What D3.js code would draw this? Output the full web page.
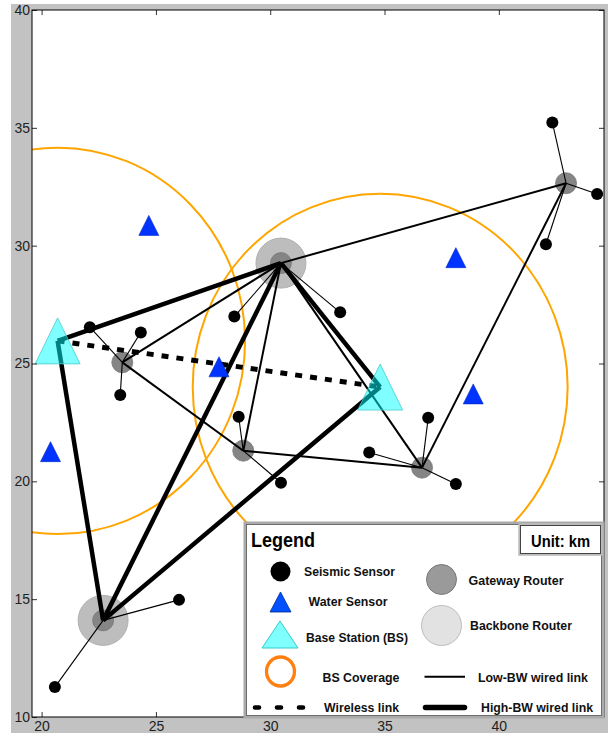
<!DOCTYPE html>
<html>
<head>
<meta charset="utf-8">
<script src="https://cdn.jsdelivr.net/npm/d3@7"></script>
<style>
  html, body { margin: 0; padding: 0; background: #fff; }
  svg { display: block; font-family: "Liberation Sans", Arial, Helvetica, sans-serif; }
</style>
</head>
<body>
<svg id="chart" width="608" height="733"></svg>
<script>
// ---- Data (km) ----
const xTicks = [20, 25, 30, 35, 40];
const yTicks = [10, 15, 20, 25, 30, 35, 40];

const coverageRadius = 8.2;

// base stations
const baseStations = [
  { id: "BS1", x: 20.70, y: 25.96 },
  { id: "BS2", x: 34.81, y: 24.00 }
];

// backbone routers
const backboneRouters = [
  { id: "BB1", x: 30.47, y: 29.26 },
  { id: "BB2", x: 22.69, y: 14.10 }
];

// gateway routers
const gatewayRouters = [
  { id: "G1", x: 23.53, y: 25.05 },
  { id: "G2", x: 28.82, y: 21.30 },
  { id: "G3", x: 36.64, y: 20.58 },
  { id: "G4", x: 42.94, y: 32.65 }
];

// water sensors
const waterSensors = [
  { x: 24.69, y: 30.86 },
  { x: 27.76, y: 24.86 },
  { x: 20.39, y: 21.26 },
  { x: 38.12, y: 29.49 },
  { x: 38.88, y: 23.71 }
];

// seismic sensors with the router each one reports to
const seismicSensors = [
  { x: 42.34, y: 35.23, parent: "G4" },
  { x: 44.30, y: 32.19, parent: "G4" },
  { x: 42.06, y: 30.06, parent: "G4" },
  { x: 33.06, y: 27.17, parent: "BB1" },
  { x: 28.43, y: 26.99, parent: "BB1" },
  { x: 22.11, y: 26.54, parent: "G1" },
  { x: 24.34, y: 26.32, parent: "G1" },
  { x: 23.44, y: 23.66, parent: "G1" },
  { x: 28.62, y: 22.74, parent: "G2" },
  { x: 30.47, y: 19.94, parent: "G2" },
  { x: 36.91, y: 22.70, parent: "G3" },
  { x: 34.33, y: 21.22, parent: "G3" },
  { x: 38.12, y: 19.89, parent: "G3" },
  { x: 26.01, y: 14.97, parent: "BB2" },
  { x: 20.58, y: 11.27, parent: "BB2" }
];

// links between infrastructure nodes
const highBwLinks = [["BS1", "BB1"], ["BS1", "BB2"], ["BB2", "BB1"], ["BB2", "BS2"], ["BB1", "BS2"]];
const lowBwLinks = [["BB1", "G4"], ["BB1", "G1"], ["BB1", "G2"], ["BB1", "G3"], ["G1", "G2"], ["G2", "G3"], ["G3", "G4"]];
const wirelessLinks = [["BS1", "BS2"]];

// ---- Layout ----
const svg = d3.select("#chart");
const W = 608, H = 733;
const plot = { left: 32, right: 604, top: 10, bottom: 717 };

const x = d3.scaleLinear().domain([19.58, 44.6]).range([plot.left, plot.right]);
const y = d3.scaleLinear().domain([10, 40]).range([plot.bottom, plot.top]);

const nodeById = new Map();
[...baseStations, ...backboneRouters, ...gatewayRouters].forEach(n => nodeById.set(n.id, n));

// figure background
svg.append("rect").attr("x", 11).attr("y", 4).attr("width", W - 11).attr("height", H - 4).attr("fill", "#c2c2c2");
svg.append("rect").attr("x", plot.left).attr("y", plot.top)
  .attr("width", plot.right - plot.left).attr("height", plot.bottom - plot.top).attr("fill", "#fff");

svg.append("defs").append("clipPath").attr("id", "plotClip")
  .append("rect").attr("x", plot.left).attr("y", plot.top)
  .attr("width", plot.right - plot.left).attr("height", plot.bottom - plot.top);

const g = svg.append("g").attr("clip-path", "url(#plotClip)");

// coverage circles (radius in km on both axes)
g.selectAll("ellipse.cov").data(baseStations).join("ellipse")
  .attr("class", "cov")
  .attr("cx", d => x(d.x)).attr("cy", d => y(d.y))
  .attr("rx", d => x(d.x + coverageRadius) - x(d.x))
  .attr("ry", d => y(d.y) - y(d.y + coverageRadius))
  .attr("fill", "none").attr("stroke", "#ffa500").attr("stroke-width", 2);

// backbone routers: outer light disc plus inner router disc
g.selectAll("circle.bbo").data(backboneRouters).join("circle")
  .attr("class", "bbo")
  .attr("cx", d => x(d.x)).attr("cy", d => y(d.y)).attr("r", 25)
  .attr("fill", "#bdbdbd").attr("stroke", "#b0b0b0").attr("stroke-width", 1);
g.selectAll("circle.gw").data([...backboneRouters, ...gatewayRouters]).join("circle")
  .attr("class", "gw")
  .attr("cx", d => x(d.x)).attr("cy", d => y(d.y)).attr("r", 10.5)
  .attr("fill", "#858585").attr("stroke", "#777").attr("stroke-width", 0.8);

// sensor links
g.selectAll("line.sl").data(seismicSensors).join("line")
  .attr("class", "sl")
  .attr("x1", d => x(d.x)).attr("y1", d => y(d.y))
  .attr("x2", d => x(nodeById.get(d.parent).x)).attr("y2", d => y(nodeById.get(d.parent).y))
  .attr("stroke", "#000").attr("stroke-width", 1.1);

function drawLinks(cls, links, width, dash) {
  g.selectAll("line." + cls).data(links).join("line")
    .attr("class", cls)
    .attr("x1", d => x(nodeById.get(d[0]).x)).attr("y1", d => y(nodeById.get(d[0]).y))
    .attr("x2", d => x(nodeById.get(d[1]).x)).attr("y2", d => y(nodeById.get(d[1]).y))
    .attr("stroke", "#000").attr("stroke-width", width)
    .attr("stroke-dasharray", dash || null);
}
drawLinks("low", lowBwLinks, 2);
drawLinks("high", highBwLinks, 4.5);
drawLinks("wl", wirelessLinks, 5, "7,8");

// seismic sensors
g.selectAll("circle.seis").data(seismicSensors).join("circle")
  .attr("class", "seis")
  .attr("cx", d => x(d.x)).attr("cy", d => y(d.y)).attr("r", 6)
  .attr("fill", "#000");

// triangle marker centred on its bounding box
function tri(w, h) {
  return `M0,${-h / 2}L${w / 2},${h / 2}L${-w / 2},${h / 2}Z`;
}

g.selectAll("path.water").data(waterSensors).join("path")
  .attr("class", "water")
  .attr("transform", d => `translate(${x(d.x)},${y(d.y)})`)
  .attr("d", tri(20, 20))
  .attr("fill", "#0033ff").attr("stroke", "#0026c0").attr("stroke-width", 0.6);

g.selectAll("path.bs").data(baseStations).join("path")
  .attr("class", "bs")
  .attr("transform", d => `translate(${x(d.x)},${y(d.y)})`)
  .attr("d", tri(45, 46))
  .attr("fill", "#00ffff").attr("fill-opacity", 0.5)
  .attr("stroke", "#4fc9c9").attr("stroke-width", 0.8);

// ---- Axes (ticks point inward on all four sides) ----
const axisFont = 14;
const axLeft = svg.append("g").attr("transform", `translate(${plot.left},0)`)
  .call(d3.axisLeft(y).tickValues(yTicks).tickSizeInner(-5).tickSizeOuter(0).tickPadding(2));
const axBottom = svg.append("g").attr("transform", `translate(0,${plot.bottom})`)
  .call(d3.axisBottom(x).tickValues(xTicks).tickSizeInner(-5).tickSizeOuter(0).tickPadding(4));
const axRight = svg.append("g").attr("transform", `translate(${plot.right},0)`)
  .call(d3.axisRight(y).tickValues(yTicks).tickSizeInner(-5).tickSizeOuter(0).tickFormat(""));
const axTop = svg.append("g").attr("transform", `translate(0,${plot.top})`)
  .call(d3.axisTop(x).tickValues(xTicks).tickSizeInner(-5).tickSizeOuter(0).tickFormat(""));
[axLeft, axBottom, axRight, axTop].forEach(a => {
  a.select(".domain").remove();
  a.selectAll("line").attr("stroke", "#333");
  a.selectAll("text").attr("font-size", axisFont).attr("fill", "#222")
    .attr("font-family", "'Liberation Sans', Arial, sans-serif");
});

svg.append("rect").attr("x", plot.left).attr("y", plot.top)
  .attr("width", plot.right - plot.left).attr("height", plot.bottom - plot.top)
  .attr("fill", "none").attr("stroke", "#000").attr("stroke-width", 1);

// ---- Legend ----
const lg = svg.append("g");
lg.append("rect").attr("x", 245).attr("y", 523).attr("width", 358).attr("height", 194)
  .attr("fill", "#fff").attr("stroke", "#aaa").attr("stroke-width", 3);
lg.append("rect").attr("x", 246.5).attr("y", 524.5).attr("width", 355).attr("height", 191)
  .attr("fill", "none").attr("stroke", "#555").attr("stroke-width", 0.8);

lg.append("text").attr("x", 251).attr("y", 547).text("Legend")
  .attr("font-size", 21).attr("font-weight", "bold")
  .attr("textLength", 64).attr("lengthAdjust", "spacingAndGlyphs");

lg.append("rect").attr("x", 519.5).attr("y", 524.5).attr("width", 82).attr("height", 30)
  .attr("fill", "#fff").attr("stroke", "#bbb").attr("stroke-width", 2.5);
lg.append("rect").attr("x", 520.5).attr("y", 525.5).attr("width", 80).attr("height", 28)
  .attr("fill", "none").attr("stroke", "#444").attr("stroke-width", 1);
lg.append("text").attr("x", 531).attr("y", 547).text("Unit: km")
  .attr("font-size", 16).attr("font-weight", "bold")
  .attr("textLength", 59).attr("lengthAdjust", "spacingAndGlyphs");

// legend symbols
lg.append("circle").attr("cx", 280.5).attr("cy", 571.5).attr("r", 10).attr("fill", "#000");
lg.append("path").attr("transform", "translate(280.5,602)").attr("d", tri(21, 20))
  .attr("fill", "#0050ff").attr("stroke", "#002a90").attr("stroke-width", 0.8);
lg.append("path").attr("transform", "translate(280,634.5)").attr("d", tri(36, 27))
  .attr("fill", "#80ffff").attr("stroke", "#33cccc").attr("stroke-width", 1);
lg.append("ellipse").attr("cx", 280.5).attr("cy", 671.5).attr("rx", 14).attr("ry", 14.5)
  .attr("fill", "none").attr("stroke", "#ff7f10").attr("stroke-width", 3.3);
lg.append("line").attr("x1", 255).attr("x2", 306).attr("y1", 707.5).attr("y2", 707.5)
  .attr("stroke", "#000").attr("stroke-width", 4.6).attr("stroke-linecap", "round")
  .attr("stroke-dasharray", "4,18");
lg.append("circle").attr("cx", 441.5).attr("cy", 579.5).attr("r", 15)
  .attr("fill", "#9a9a9a").attr("stroke", "#777").attr("stroke-width", 1);
lg.append("circle").attr("cx", 441.5).attr("cy", 625.5).attr("r", 20)
  .attr("fill", "#e2e2e2").attr("stroke", "#bdbdbd").attr("stroke-width", 1);
lg.append("line").attr("x1", 424.5).attr("x2", 465).attr("y1", 676.7).attr("y2", 676.7)
  .attr("stroke", "#000").attr("stroke-width", 2);
lg.append("line").attr("x1", 425.5).attr("x2", 464.5).attr("y1", 707.5).attr("y2", 707.5)
  .attr("stroke", "#000").attr("stroke-width", 5.5).attr("stroke-linecap", "round");

// legend labels
const legendLabels = [
  { text: "Seismic Sensor", x: 304, y: 575.5, w: 91 },
  { text: "Water Sensor", x: 308.5, y: 606, w: 79 },
  { text: "Base Station (BS)", x: 306, y: 642, w: 102 },
  { text: "BS Coverage", x: 322.5, y: 682, w: 77 },
  { text: "Wireless link", x: 324, y: 712, w: 75 },
  { text: "Gateway Router", x: 468.5, y: 584.5, w: 95 },
  { text: "Backbone Router", x: 470, y: 630, w: 102 },
  { text: "Low-BW wired link", x: 478, y: 682, w: 110 },
  { text: "High-BW wired link", x: 481, y: 712, w: 112 }
];
lg.selectAll("text.item").data(legendLabels).join("text")
  .attr("class", "item")
  .attr("x", d => d.x).attr("y", d => d.y).text(d => d.text)
  .attr("font-size", 12).attr("font-weight", "bold").attr("fill", "#111")
  .attr("textLength", d => d.w).attr("lengthAdjust", "spacingAndGlyphs");
</script>
</body>
</html>
